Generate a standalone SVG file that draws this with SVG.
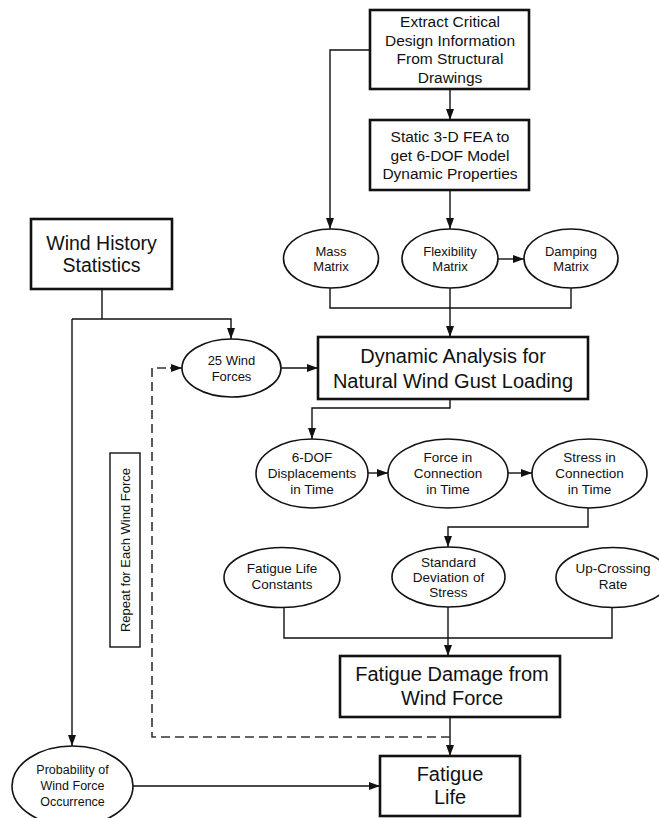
<svg xmlns="http://www.w3.org/2000/svg" width="659" height="818" viewBox="0 0 659 818">
<style>
  .box{fill:#fff;stroke:#111;stroke-width:2.6}
  .thin{fill:#fff;stroke:#111;stroke-width:1.4}
  .ell{fill:#fff;stroke:#111;stroke-width:1.6}
  .ln{fill:none;stroke:#111;stroke-width:1.4}
  .dash{fill:none;stroke:#333;stroke-width:1.6;stroke-dasharray:9,5}
  text{font-family:"Liberation Sans",Arial,sans-serif;fill:#111;text-anchor:middle}
  .t15{font-size:15.5px}
  .t20{font-size:20px}
  .t13{font-size:13px}
  .t135{font-size:13.5px}
  .t125{font-size:12.5px}
</style>
<defs>
  <marker id="arr" markerUnits="userSpaceOnUse" markerWidth="11" markerHeight="8" refX="11" refY="4" orient="auto">
    <path d="M0,0 L11,4 L0,8 Z" fill="#111"/>
  </marker>
</defs>
<rect width="659" height="818" fill="#fff"/>

<g id="connectors">
  <path class="ln" d="M450,90 V120" marker-end="url(#arr)"/>
  <path class="ln" d="M370,50 H330 V229" marker-end="url(#arr)"/>
  <path class="ln" d="M450,190 V229" marker-end="url(#arr)"/>
  <path class="ln" d="M498,259 H524" marker-end="url(#arr)"/>
  <path class="ln" d="M330,288 V308 H571 V288"/>
  <path class="ln" d="M450,288 V337" marker-end="url(#arr)"/>
  <path class="ln" d="M102,289 V319"/>
  <path class="ln" d="M72,319 H231 V339" marker-end="url(#arr)"/>
  <path class="ln" d="M72,319 V746" marker-end="url(#arr)"/>
  <path class="ln" d="M281,368 H318" marker-end="url(#arr)"/>
  <path class="ln" d="M450,399 V408 H312 V439" marker-end="url(#arr)"/>
  <path class="ln" d="M368,473 H388" marker-end="url(#arr)"/>
  <path class="ln" d="M508,473 H532" marker-end="url(#arr)"/>
  <path class="ln" d="M588,508 V527 H448 V547" marker-end="url(#arr)"/>
  <path class="ln" d="M284,607 V638 H612 V607"/>
  <path class="ln" d="M448,607 V656" marker-end="url(#arr)"/>
  <path class="ln" d="M450,717 V756" marker-end="url(#arr)"/>
  <path class="ln" d="M133,786 H380" marker-end="url(#arr)"/>
  <path class="dash" d="M450,737 H152 V368 H170"/>
  <path class="ln" d="M170,368 H182" marker-end="url(#arr)"/>
</g>

<g id="extract">
  <rect class="box" x="370" y="10" width="159" height="79"/>
  <text class="t15" x="450" y="27.4">Extract Critical</text>
  <text class="t15" x="450" y="46">Design Information</text>
  <text class="t15" x="450" y="64.4">From Structural</text>
  <text class="t15" x="450" y="83">Drawings</text>
</g>
<g id="static">
  <rect class="box" x="370" y="120" width="159" height="70"/>
  <text class="t15" x="450" y="141.5">Static 3-D FEA to</text>
  <text class="t15" x="450" y="160.5">get 6-DOF Model</text>
  <text class="t15" x="450" y="178.5">Dynamic Properties</text>
</g>
<g id="windhistory">
  <rect class="box" x="31" y="219" width="141" height="70"/>
  <text class="t20" x="101.5" y="250" style="font-size:19.5px">Wind History</text>
  <text class="t20" x="101.5" y="272" style="font-size:19.5px">Statistics</text>
</g>
<g id="mass">
  <ellipse class="ell" cx="331" cy="258.5" rx="47.5" ry="29.5"/>
  <text class="t13" x="331" y="256">Mass</text>
  <text class="t13" x="331" y="271">Matrix</text>
</g>
<g id="flexibility">
  <ellipse class="ell" cx="450" cy="258.5" rx="48" ry="29.5"/>
  <text class="t13" x="450" y="256">Flexibility</text>
  <text class="t13" x="450" y="271">Matrix</text>
</g>
<g id="damping">
  <ellipse class="ell" cx="571" cy="258.5" rx="47" ry="29.5"/>
  <text class="t13" x="571" y="256">Damping</text>
  <text class="t13" x="571" y="271">Matrix</text>
</g>
<g id="windforces">
  <ellipse class="ell" cx="231.5" cy="368" rx="49.5" ry="29"/>
  <text class="t13" x="231.5" y="364.5">25 Wind</text>
  <text class="t13" x="231.5" y="380.5">Forces</text>
</g>
<g id="dynamic">
  <rect class="box" x="318" y="337" width="270" height="62"/>
  <text class="t20" x="453" y="363">Dynamic Analysis for</text>
  <text class="t20" x="453" y="388">Natural Wind Gust Loading</text>
</g>
<g id="displacements">
  <ellipse class="ell" cx="312" cy="473.5" rx="56" ry="34.5"/>
  <text class="t135" x="312" y="461.7">6-DOF</text>
  <text class="t135" x="312" y="477.7">Displacements</text>
  <text class="t135" x="312" y="493.7">in Time</text>
</g>
<g id="force">
  <ellipse class="ell" cx="448" cy="473.5" rx="60" ry="34.5"/>
  <text class="t135" x="448" y="461.7">Force in</text>
  <text class="t135" x="448" y="477.7">Connection</text>
  <text class="t135" x="448" y="493.7">in Time</text>
</g>
<g id="stress">
  <ellipse class="ell" cx="589.5" cy="473.5" rx="57.5" ry="34.5"/>
  <text class="t135" x="589.5" y="461.7">Stress in</text>
  <text class="t135" x="589.5" y="477.7">Connection</text>
  <text class="t135" x="589.5" y="493.7">in Time</text>
</g>
<g id="repeat">
  <rect class="thin" x="110" y="453" width="30" height="194"/>
  <text class="t13" transform="translate(129.7,550) rotate(-90)" x="0" y="0">Repeat for Each Wind Force</text>
</g>
<g id="constants">
  <ellipse class="ell" cx="282" cy="577.5" rx="58" ry="30"/>
  <text class="t135" x="282" y="572.7">Fatigue Life</text>
  <text class="t135" x="282" y="588.7">Constants</text>
</g>
<g id="stddev">
  <ellipse class="ell" cx="448.5" cy="577" rx="56.5" ry="30"/>
  <text class="t135" x="448.5" y="566.7">Standard</text>
  <text class="t135" x="448.5" y="581.7">Deviation of</text>
  <text class="t135" x="448.5" y="596.7">Stress</text>
</g>
<g id="upcrossing">
  <ellipse class="ell" cx="613" cy="577.5" rx="57" ry="30"/>
  <text class="t135" x="613" y="572.7">Up-Crossing</text>
  <text class="t135" x="613" y="588.7">Rate</text>
</g>
<g id="damage">
  <rect class="box" x="340" y="656" width="220" height="61"/>
  <text class="t20" x="452" y="681">Fatigue Damage from</text>
  <text class="t20" x="452" y="705">Wind Force</text>
</g>
<g id="probability">
  <ellipse class="ell" cx="72.5" cy="786" rx="60.5" ry="40"/>
  <text class="t125" x="72.5" y="774.4">Probability of</text>
  <text class="t125" x="72.5" y="790.4">Wind Force</text>
  <text class="t125" x="72.5" y="806.4">Occurrence</text>
</g>
<g id="fatiguelife">
  <rect class="box" x="380" y="756" width="140" height="60"/>
  <text class="t20" x="450" y="781">Fatigue</text>
  <text class="t20" x="450" y="804">Life</text>
</g>
</svg>
